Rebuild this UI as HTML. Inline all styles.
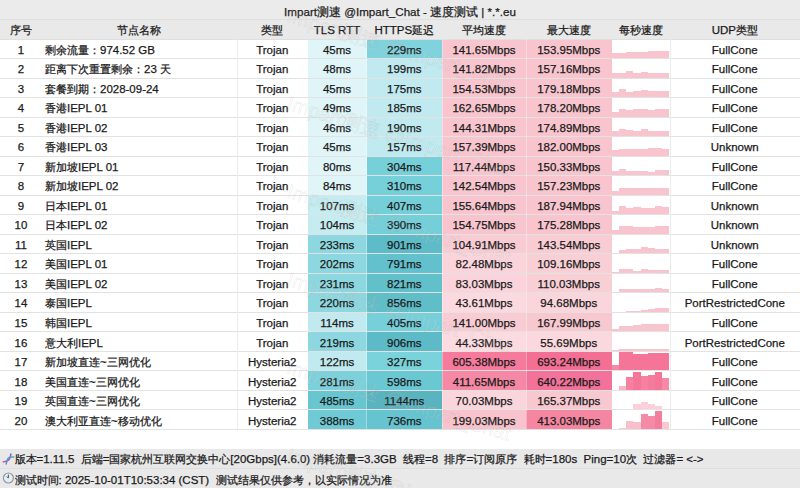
<!DOCTYPE html><html><head><meta charset="utf-8"><style>
*{margin:0;padding:0;box-sizing:border-box}
html,body{width:800px;height:488px;overflow:hidden;background:#fff}
body{position:relative;font-family:"Liberation Sans",sans-serif;font-size:11.49px;color:#1a1a1a}
.a{position:absolute}
.t{position:absolute;text-align:center;white-space:nowrap;-webkit-text-stroke:0.25px #1a1a1a}
.hl{position:absolute;left:0;width:800px;height:1px;background:#e2e2e2}
.vl{position:absolute;width:1px;background:#ececec}
.wm{position:absolute;white-space:nowrap;font-size:20px;line-height:23px;color:rgba(255,255,255,0.12);-webkit-text-stroke:0.6px rgba(130,130,130,0.17);transform-origin:0 0;transform:rotate(17deg)}
</style></head><body>

<div class="a" style="left:0;top:0;width:800px;height:19px;background:#ebebeb"></div>
<div class="t" style="left:0;top:1.8px;width:800px;height:19px;line-height:19px;font-size:11.6px;color:#222;-webkit-text-stroke:0.25px #222">Impart测速 @Impart_Chat - 速度测试 | *.*.eu</div>
<div class="a" style="left:0;top:19px;width:800px;height:20.1px;background:#e9e9e9"></div>
<div class="hl" style="top:19px;background:#dfdfdf"></div>
<div class="t" style="left:1px;top:20.900000000000002px;width:40px;line-height:19.8px">序号</div>
<div class="t" style="left:40px;top:20.900000000000002px;width:197px;line-height:19.8px">节点名称</div>
<div class="t" style="left:237px;top:20.900000000000002px;width:70.5px;line-height:19.8px">类型</div>
<div class="t" style="left:307.5px;top:20.900000000000002px;width:59.0px;line-height:19.8px">TLS RTT</div>
<div class="t" style="left:366.5px;top:20.900000000000002px;width:75.5px;line-height:19.8px">HTTPS延迟</div>
<div class="t" style="left:442px;top:20.900000000000002px;width:84px;line-height:19.8px">平均速度</div>
<div class="t" style="left:526px;top:20.900000000000002px;width:85.5px;line-height:19.8px">最大速度</div>
<div class="t" style="left:611.5px;top:20.900000000000002px;width:58.0px;line-height:19.8px">每秒速度</div>
<div class="t" style="left:669.5px;top:20.900000000000002px;width:130.5px;line-height:19.8px">UDP类型</div>
<div class="a" style="left:307.5px;top:39.10px;width:59.0px;height:19.52px;background:#e0f5f7"></div>
<div class="a" style="left:366.5px;top:39.10px;width:75.5px;height:19.52px;background:#80d3dc"></div>
<div class="a" style="left:442px;top:39.10px;width:84px;height:19.52px;background:#f8c5ce"></div>
<div class="a" style="left:526px;top:39.10px;width:85.5px;height:19.52px;background:#f8c5ce"></div>
<div class="a" style="left:612.00px;top:53.12px;width:7.20px;height:5.00px;background:#f8c4cd"></div>
<div class="a" style="left:619.15px;top:52.52px;width:7.20px;height:5.60px;background:#f8c4cd"></div>
<div class="a" style="left:626.30px;top:52.12px;width:7.20px;height:6.00px;background:#f8c4cd"></div>
<div class="a" style="left:633.45px;top:51.72px;width:7.20px;height:6.40px;background:#f8c4cd"></div>
<div class="a" style="left:640.60px;top:51.52px;width:7.20px;height:6.60px;background:#f8c4cd"></div>
<div class="a" style="left:647.75px;top:51.32px;width:7.20px;height:6.80px;background:#f8c4cd"></div>
<div class="a" style="left:654.90px;top:51.32px;width:7.20px;height:6.80px;background:#f8c4cd"></div>
<div class="a" style="left:662.05px;top:51.32px;width:7.20px;height:6.80px;background:#f8c4cd"></div>
<div class="a" style="left:307.5px;top:58.62px;width:59.0px;height:19.52px;background:#e0f5f7"></div>
<div class="a" style="left:366.5px;top:58.62px;width:75.5px;height:19.52px;background:#c0eaf0"></div>
<div class="a" style="left:442px;top:58.62px;width:84px;height:19.52px;background:#f8c5ce"></div>
<div class="a" style="left:526px;top:58.62px;width:85.5px;height:19.52px;background:#f8c5ce"></div>
<div class="a" style="left:612.00px;top:72.64px;width:7.20px;height:5.00px;background:#f8c4cd"></div>
<div class="a" style="left:619.15px;top:72.64px;width:7.20px;height:5.00px;background:#f8c4cd"></div>
<div class="a" style="left:626.30px;top:71.04px;width:7.20px;height:6.60px;background:#f8c4cd"></div>
<div class="a" style="left:633.45px;top:72.64px;width:7.20px;height:5.00px;background:#f8c4cd"></div>
<div class="a" style="left:640.60px;top:71.64px;width:7.20px;height:6.00px;background:#f8c4cd"></div>
<div class="a" style="left:647.75px;top:72.64px;width:7.20px;height:5.00px;background:#f8c4cd"></div>
<div class="a" style="left:654.90px;top:72.64px;width:7.20px;height:5.00px;background:#f8c4cd"></div>
<div class="a" style="left:662.05px;top:72.64px;width:7.20px;height:5.00px;background:#f8c4cd"></div>
<div class="a" style="left:307.5px;top:78.14px;width:59.0px;height:19.52px;background:#e0f5f7"></div>
<div class="a" style="left:366.5px;top:78.14px;width:75.5px;height:19.52px;background:#c0eaf0"></div>
<div class="a" style="left:442px;top:78.14px;width:84px;height:19.52px;background:#f8c5ce"></div>
<div class="a" style="left:526px;top:78.14px;width:85.5px;height:19.52px;background:#f8c5ce"></div>
<div class="a" style="left:612.00px;top:91.76px;width:7.20px;height:5.40px;background:#f8c4cd"></div>
<div class="a" style="left:619.15px;top:89.16px;width:7.20px;height:8.00px;background:#f8c4cd"></div>
<div class="a" style="left:626.30px;top:91.76px;width:7.20px;height:5.40px;background:#f8c4cd"></div>
<div class="a" style="left:633.45px;top:90.56px;width:7.20px;height:6.60px;background:#f8c4cd"></div>
<div class="a" style="left:640.60px;top:89.76px;width:7.20px;height:7.40px;background:#f8c4cd"></div>
<div class="a" style="left:647.75px;top:90.56px;width:7.20px;height:6.60px;background:#f8c4cd"></div>
<div class="a" style="left:654.90px;top:90.56px;width:7.20px;height:6.60px;background:#f8c4cd"></div>
<div class="a" style="left:662.05px;top:90.56px;width:7.20px;height:6.60px;background:#f8c4cd"></div>
<div class="a" style="left:307.5px;top:97.66px;width:59.0px;height:19.52px;background:#e0f5f7"></div>
<div class="a" style="left:366.5px;top:97.66px;width:75.5px;height:19.52px;background:#c0eaf0"></div>
<div class="a" style="left:442px;top:97.66px;width:84px;height:19.52px;background:#f8c5ce"></div>
<div class="a" style="left:526px;top:97.66px;width:85.5px;height:19.52px;background:#f8c5ce"></div>
<div class="a" style="left:612.00px;top:111.88px;width:7.20px;height:4.80px;background:#f8c4cd"></div>
<div class="a" style="left:619.15px;top:109.28px;width:7.20px;height:7.40px;background:#f8c4cd"></div>
<div class="a" style="left:626.30px;top:110.28px;width:7.20px;height:6.40px;background:#f8c4cd"></div>
<div class="a" style="left:633.45px;top:109.28px;width:7.20px;height:7.40px;background:#f8c4cd"></div>
<div class="a" style="left:640.60px;top:109.28px;width:7.20px;height:7.40px;background:#f8c4cd"></div>
<div class="a" style="left:647.75px;top:109.88px;width:7.20px;height:6.80px;background:#f8c4cd"></div>
<div class="a" style="left:654.90px;top:109.28px;width:7.20px;height:7.40px;background:#f8c4cd"></div>
<div class="a" style="left:662.05px;top:109.28px;width:7.20px;height:7.40px;background:#f8c4cd"></div>
<div class="a" style="left:307.5px;top:117.18px;width:59.0px;height:19.52px;background:#e0f5f7"></div>
<div class="a" style="left:366.5px;top:117.18px;width:75.5px;height:19.52px;background:#c0eaf0"></div>
<div class="a" style="left:442px;top:117.18px;width:84px;height:19.52px;background:#f8c5ce"></div>
<div class="a" style="left:526px;top:117.18px;width:85.5px;height:19.52px;background:#f8c5ce"></div>
<div class="a" style="left:612.00px;top:131.20px;width:7.20px;height:5.00px;background:#f8c4cd"></div>
<div class="a" style="left:619.15px;top:129.20px;width:7.20px;height:7.00px;background:#f8c4cd"></div>
<div class="a" style="left:626.30px;top:130.20px;width:7.20px;height:6.00px;background:#f8c4cd"></div>
<div class="a" style="left:633.45px;top:130.60px;width:7.20px;height:5.60px;background:#f8c4cd"></div>
<div class="a" style="left:640.60px;top:128.60px;width:7.20px;height:7.60px;background:#f8c4cd"></div>
<div class="a" style="left:647.75px;top:130.60px;width:7.20px;height:5.60px;background:#f8c4cd"></div>
<div class="a" style="left:654.90px;top:130.60px;width:7.20px;height:5.60px;background:#f8c4cd"></div>
<div class="a" style="left:662.05px;top:130.60px;width:7.20px;height:5.60px;background:#f8c4cd"></div>
<div class="a" style="left:307.5px;top:136.70px;width:59.0px;height:19.52px;background:#e0f5f7"></div>
<div class="a" style="left:366.5px;top:136.70px;width:75.5px;height:19.52px;background:#c0eaf0"></div>
<div class="a" style="left:442px;top:136.70px;width:84px;height:19.52px;background:#f8c5ce"></div>
<div class="a" style="left:526px;top:136.70px;width:85.5px;height:19.52px;background:#f8c5ce"></div>
<div class="a" style="left:612.00px;top:150.12px;width:7.20px;height:5.60px;background:#f8c4cd"></div>
<div class="a" style="left:619.15px;top:149.12px;width:7.20px;height:6.60px;background:#f8c4cd"></div>
<div class="a" style="left:626.30px;top:149.12px;width:7.20px;height:6.60px;background:#f8c4cd"></div>
<div class="a" style="left:633.45px;top:148.72px;width:7.20px;height:7.00px;background:#f8c4cd"></div>
<div class="a" style="left:640.60px;top:148.52px;width:7.20px;height:7.20px;background:#f8c4cd"></div>
<div class="a" style="left:647.75px;top:147.72px;width:7.20px;height:8.00px;background:#f8c4cd"></div>
<div class="a" style="left:654.90px;top:148.12px;width:7.20px;height:7.60px;background:#f8c4cd"></div>
<div class="a" style="left:662.05px;top:148.52px;width:7.20px;height:7.20px;background:#f8c4cd"></div>
<div class="a" style="left:307.5px;top:156.22px;width:59.0px;height:19.52px;background:#e0f5f7"></div>
<div class="a" style="left:366.5px;top:156.22px;width:75.5px;height:19.52px;background:#76d0da"></div>
<div class="a" style="left:442px;top:156.22px;width:84px;height:19.52px;background:#f8c5ce"></div>
<div class="a" style="left:526px;top:156.22px;width:85.5px;height:19.52px;background:#f8c5ce"></div>
<div class="a" style="left:612.00px;top:171.24px;width:7.20px;height:4.00px;background:#f8c4cd"></div>
<div class="a" style="left:619.15px;top:168.64px;width:7.20px;height:6.60px;background:#f8c4cd"></div>
<div class="a" style="left:626.30px;top:170.64px;width:7.20px;height:4.60px;background:#f8c4cd"></div>
<div class="a" style="left:633.45px;top:170.64px;width:7.20px;height:4.60px;background:#f8c4cd"></div>
<div class="a" style="left:640.60px;top:171.24px;width:7.20px;height:4.00px;background:#f8c4cd"></div>
<div class="a" style="left:647.75px;top:172.24px;width:7.20px;height:3.00px;background:#f8c4cd"></div>
<div class="a" style="left:654.90px;top:169.84px;width:7.20px;height:5.40px;background:#f8c4cd"></div>
<div class="a" style="left:662.05px;top:169.84px;width:7.20px;height:5.40px;background:#f8c4cd"></div>
<div class="a" style="left:307.5px;top:175.74px;width:59.0px;height:19.52px;background:#e0f5f7"></div>
<div class="a" style="left:366.5px;top:175.74px;width:75.5px;height:19.52px;background:#76d0da"></div>
<div class="a" style="left:442px;top:175.74px;width:84px;height:19.52px;background:#f8c5ce"></div>
<div class="a" style="left:526px;top:175.74px;width:85.5px;height:19.52px;background:#f8c5ce"></div>
<div class="a" style="left:612.00px;top:191.36px;width:7.20px;height:3.40px;background:#f8c4cd"></div>
<div class="a" style="left:619.15px;top:187.96px;width:7.20px;height:6.80px;background:#f8c4cd"></div>
<div class="a" style="left:626.30px;top:188.36px;width:7.20px;height:6.40px;background:#f8c4cd"></div>
<div class="a" style="left:633.45px;top:188.36px;width:7.20px;height:6.40px;background:#f8c4cd"></div>
<div class="a" style="left:640.60px;top:187.96px;width:7.20px;height:6.80px;background:#f8c4cd"></div>
<div class="a" style="left:647.75px;top:187.96px;width:7.20px;height:6.80px;background:#f8c4cd"></div>
<div class="a" style="left:654.90px;top:188.36px;width:7.20px;height:6.40px;background:#f8c4cd"></div>
<div class="a" style="left:662.05px;top:188.36px;width:7.20px;height:6.40px;background:#f8c4cd"></div>
<div class="a" style="left:307.5px;top:195.26px;width:59.0px;height:19.52px;background:#c5ecf0"></div>
<div class="a" style="left:366.5px;top:195.26px;width:75.5px;height:19.52px;background:#74cfd9"></div>
<div class="a" style="left:442px;top:195.26px;width:84px;height:19.52px;background:#f8c5ce"></div>
<div class="a" style="left:526px;top:195.26px;width:85.5px;height:19.52px;background:#f8c5ce"></div>
<div class="a" style="left:612.00px;top:211.28px;width:7.20px;height:3.00px;background:#f8c4cd"></div>
<div class="a" style="left:619.15px;top:206.28px;width:7.20px;height:8.00px;background:#f8c4cd"></div>
<div class="a" style="left:626.30px;top:207.88px;width:7.20px;height:6.40px;background:#f8c4cd"></div>
<div class="a" style="left:633.45px;top:207.28px;width:7.20px;height:7.00px;background:#f8c4cd"></div>
<div class="a" style="left:640.60px;top:207.88px;width:7.20px;height:6.40px;background:#f8c4cd"></div>
<div class="a" style="left:647.75px;top:207.88px;width:7.20px;height:6.40px;background:#f8c4cd"></div>
<div class="a" style="left:654.90px;top:205.88px;width:7.20px;height:8.40px;background:#f8c4cd"></div>
<div class="a" style="left:662.05px;top:206.68px;width:7.20px;height:7.60px;background:#f8c4cd"></div>
<div class="a" style="left:307.5px;top:214.78px;width:59.0px;height:19.52px;background:#c5ecf0"></div>
<div class="a" style="left:366.5px;top:214.78px;width:75.5px;height:19.52px;background:#74cfd9"></div>
<div class="a" style="left:442px;top:214.78px;width:84px;height:19.52px;background:#f8c5ce"></div>
<div class="a" style="left:526px;top:214.78px;width:85.5px;height:19.52px;background:#f8c5ce"></div>
<div class="a" style="left:612.00px;top:230.40px;width:7.20px;height:3.40px;background:#f8c4cd"></div>
<div class="a" style="left:619.15px;top:226.00px;width:7.20px;height:7.80px;background:#f8c4cd"></div>
<div class="a" style="left:626.30px;top:226.40px;width:7.20px;height:7.40px;background:#f8c4cd"></div>
<div class="a" style="left:633.45px;top:227.40px;width:7.20px;height:6.40px;background:#f8c4cd"></div>
<div class="a" style="left:640.60px;top:227.40px;width:7.20px;height:6.40px;background:#f8c4cd"></div>
<div class="a" style="left:647.75px;top:226.80px;width:7.20px;height:7.00px;background:#f8c4cd"></div>
<div class="a" style="left:654.90px;top:226.40px;width:7.20px;height:7.40px;background:#f8c4cd"></div>
<div class="a" style="left:662.05px;top:226.40px;width:7.20px;height:7.40px;background:#f8c4cd"></div>
<div class="a" style="left:307.5px;top:234.30px;width:59.0px;height:19.52px;background:#8dd8e0"></div>
<div class="a" style="left:366.5px;top:234.30px;width:75.5px;height:19.52px;background:#5dbcc8"></div>
<div class="a" style="left:442px;top:234.30px;width:84px;height:19.52px;background:#f9ccd4"></div>
<div class="a" style="left:526px;top:234.30px;width:85.5px;height:19.52px;background:#f9ccd4"></div>
<div class="a" style="left:612.00px;top:252.72px;width:7.20px;height:0.60px;background:#f8c4cd"></div>
<div class="a" style="left:619.15px;top:250.32px;width:7.20px;height:3.00px;background:#f8c4cd"></div>
<div class="a" style="left:626.30px;top:248.62px;width:7.20px;height:4.70px;background:#f8c4cd"></div>
<div class="a" style="left:633.45px;top:248.62px;width:7.20px;height:4.70px;background:#f8c4cd"></div>
<div class="a" style="left:640.60px;top:246.92px;width:7.20px;height:6.40px;background:#f8c4cd"></div>
<div class="a" style="left:647.75px;top:247.82px;width:7.20px;height:5.50px;background:#f8c4cd"></div>
<div class="a" style="left:654.90px;top:249.32px;width:7.20px;height:4.00px;background:#f8c4cd"></div>
<div class="a" style="left:662.05px;top:248.62px;width:7.20px;height:4.70px;background:#f8c4cd"></div>
<div class="a" style="left:307.5px;top:253.82px;width:59.0px;height:19.52px;background:#8dd8e0"></div>
<div class="a" style="left:366.5px;top:253.82px;width:75.5px;height:19.52px;background:#62c1cc"></div>
<div class="a" style="left:442px;top:253.82px;width:84px;height:19.52px;background:#fad4da"></div>
<div class="a" style="left:526px;top:253.82px;width:85.5px;height:19.52px;background:#f9cfd6"></div>
<div class="a" style="left:612.00px;top:271.84px;width:7.20px;height:1.00px;background:#f8c4cd"></div>
<div class="a" style="left:619.15px;top:269.44px;width:7.20px;height:3.40px;background:#f8c4cd"></div>
<div class="a" style="left:626.30px;top:268.54px;width:7.20px;height:4.30px;background:#f8c4cd"></div>
<div class="a" style="left:633.45px;top:270.84px;width:7.20px;height:2.00px;background:#f8c4cd"></div>
<div class="a" style="left:640.60px;top:268.54px;width:7.20px;height:4.30px;background:#f8c4cd"></div>
<div class="a" style="left:647.75px;top:270.24px;width:7.20px;height:2.60px;background:#f8c4cd"></div>
<div class="a" style="left:654.90px;top:269.84px;width:7.20px;height:3.00px;background:#f8c4cd"></div>
<div class="a" style="left:662.05px;top:270.24px;width:7.20px;height:2.60px;background:#f8c4cd"></div>
<div class="a" style="left:307.5px;top:273.34px;width:59.0px;height:19.52px;background:#8dd8e0"></div>
<div class="a" style="left:366.5px;top:273.34px;width:75.5px;height:19.52px;background:#62c0cb"></div>
<div class="a" style="left:442px;top:273.34px;width:84px;height:19.52px;background:#fad4da"></div>
<div class="a" style="left:526px;top:273.34px;width:85.5px;height:19.52px;background:#f9cfd6"></div>
<div class="a" style="left:612.00px;top:291.76px;width:7.20px;height:0.60px;background:#f8c4cd"></div>
<div class="a" style="left:619.15px;top:289.36px;width:7.20px;height:3.00px;background:#f8c4cd"></div>
<div class="a" style="left:626.30px;top:288.56px;width:7.20px;height:3.80px;background:#f8c4cd"></div>
<div class="a" style="left:633.45px;top:289.36px;width:7.20px;height:3.00px;background:#f8c4cd"></div>
<div class="a" style="left:640.60px;top:289.36px;width:7.20px;height:3.00px;background:#f8c4cd"></div>
<div class="a" style="left:647.75px;top:288.56px;width:7.20px;height:3.80px;background:#f8c4cd"></div>
<div class="a" style="left:654.90px;top:287.66px;width:7.20px;height:4.70px;background:#f8c4cd"></div>
<div class="a" style="left:662.05px;top:288.56px;width:7.20px;height:3.80px;background:#f8c4cd"></div>
<div class="a" style="left:307.5px;top:292.86px;width:59.0px;height:19.52px;background:#8dd8e0"></div>
<div class="a" style="left:366.5px;top:292.86px;width:75.5px;height:19.52px;background:#60bec9"></div>
<div class="a" style="left:442px;top:292.86px;width:84px;height:19.52px;background:#fbd9df"></div>
<div class="a" style="left:526px;top:292.86px;width:85.5px;height:19.52px;background:#fad5db"></div>
<div class="a" style="left:619.15px;top:311.58px;width:7.20px;height:0.30px;background:#f8c4cd"></div>
<div class="a" style="left:626.30px;top:310.88px;width:7.20px;height:1.00px;background:#f8c4cd"></div>
<div class="a" style="left:633.45px;top:310.88px;width:7.20px;height:1.00px;background:#f8c4cd"></div>
<div class="a" style="left:640.60px;top:310.18px;width:7.20px;height:1.70px;background:#f8c4cd"></div>
<div class="a" style="left:647.75px;top:309.28px;width:7.20px;height:2.60px;background:#f8c4cd"></div>
<div class="a" style="left:654.90px;top:308.48px;width:7.20px;height:3.40px;background:#f8c4cd"></div>
<div class="a" style="left:662.05px;top:308.08px;width:7.20px;height:3.80px;background:#f8c4cd"></div>
<div class="a" style="left:307.5px;top:312.38px;width:59.0px;height:19.52px;background:#c0eaef"></div>
<div class="a" style="left:366.5px;top:312.38px;width:75.5px;height:19.52px;background:#76d0da"></div>
<div class="a" style="left:442px;top:312.38px;width:84px;height:19.52px;background:#f9ccd3"></div>
<div class="a" style="left:526px;top:312.38px;width:85.5px;height:19.52px;background:#f8c8d0"></div>
<div class="a" style="left:612.00px;top:328.80px;width:7.20px;height:2.60px;background:#f8c4cd"></div>
<div class="a" style="left:619.15px;top:326.00px;width:7.20px;height:5.40px;background:#f8c4cd"></div>
<div class="a" style="left:626.30px;top:326.40px;width:7.20px;height:5.00px;background:#f8c4cd"></div>
<div class="a" style="left:633.45px;top:324.80px;width:7.20px;height:6.60px;background:#f8c4cd"></div>
<div class="a" style="left:640.60px;top:324.00px;width:7.20px;height:7.40px;background:#f8c4cd"></div>
<div class="a" style="left:647.75px;top:323.60px;width:7.20px;height:7.80px;background:#f8c4cd"></div>
<div class="a" style="left:654.90px;top:324.00px;width:7.20px;height:7.40px;background:#f8c4cd"></div>
<div class="a" style="left:662.05px;top:324.00px;width:7.20px;height:7.40px;background:#f8c4cd"></div>
<div class="a" style="left:307.5px;top:331.90px;width:59.0px;height:19.52px;background:#8dd8e0"></div>
<div class="a" style="left:366.5px;top:331.90px;width:75.5px;height:19.52px;background:#5dbbc7"></div>
<div class="a" style="left:442px;top:331.90px;width:84px;height:19.52px;background:#fbdbe0"></div>
<div class="a" style="left:526px;top:331.90px;width:85.5px;height:19.52px;background:#fbd8de"></div>
<div class="a" style="left:612.00px;top:350.42px;width:7.20px;height:0.50px;background:#f8c4cd"></div>
<div class="a" style="left:619.15px;top:349.42px;width:7.20px;height:1.50px;background:#f8c4cd"></div>
<div class="a" style="left:626.30px;top:349.42px;width:7.20px;height:1.50px;background:#f8c4cd"></div>
<div class="a" style="left:633.45px;top:349.42px;width:7.20px;height:1.50px;background:#f8c4cd"></div>
<div class="a" style="left:640.60px;top:349.42px;width:7.20px;height:1.50px;background:#f8c4cd"></div>
<div class="a" style="left:647.75px;top:349.42px;width:7.20px;height:1.50px;background:#f8c4cd"></div>
<div class="a" style="left:654.90px;top:349.42px;width:7.20px;height:1.50px;background:#f8c4cd"></div>
<div class="a" style="left:662.05px;top:349.42px;width:7.20px;height:1.50px;background:#f8c4cd"></div>
<div class="a" style="left:307.5px;top:351.42px;width:59.0px;height:19.52px;background:#c0eaef"></div>
<div class="a" style="left:366.5px;top:351.42px;width:75.5px;height:19.52px;background:#7ad2db"></div>
<div class="a" style="left:442px;top:351.42px;width:84px;height:19.52px;background:#f57a9c"></div>
<div class="a" style="left:526px;top:351.42px;width:85.5px;height:19.52px;background:#f36f93"></div>
<div class="a" style="left:612.00px;top:364.64px;width:7.20px;height:5.80px;background:#f68aa5"></div>
<div class="a" style="left:619.15px;top:352.14px;width:7.20px;height:18.30px;background:#f47598"></div>
<div class="a" style="left:626.30px;top:352.14px;width:7.20px;height:18.30px;background:#f47598"></div>
<div class="a" style="left:633.45px;top:353.84px;width:7.20px;height:16.60px;background:#f47598"></div>
<div class="a" style="left:640.60px;top:353.84px;width:7.20px;height:16.60px;background:#f47598"></div>
<div class="a" style="left:647.75px;top:352.54px;width:7.20px;height:17.90px;background:#f47598"></div>
<div class="a" style="left:654.90px;top:352.54px;width:7.20px;height:17.90px;background:#f47598"></div>
<div class="a" style="left:662.05px;top:353.24px;width:7.20px;height:17.20px;background:#f47598"></div>
<div class="a" style="left:307.5px;top:370.94px;width:59.0px;height:19.52px;background:#7cd2dc"></div>
<div class="a" style="left:366.5px;top:370.94px;width:75.5px;height:19.52px;background:#6ac8d3"></div>
<div class="a" style="left:442px;top:370.94px;width:84px;height:19.52px;background:#f588a4"></div>
<div class="a" style="left:526px;top:370.94px;width:85.5px;height:19.52px;background:#f3729a"></div>
<div class="a" style="left:619.15px;top:385.76px;width:7.20px;height:4.20px;background:#f9b5c4"></div>
<div class="a" style="left:626.30px;top:377.36px;width:7.20px;height:12.60px;background:#f5809f"></div>
<div class="a" style="left:633.45px;top:372.16px;width:7.20px;height:17.80px;background:#f47598"></div>
<div class="a" style="left:640.60px;top:375.86px;width:7.20px;height:14.10px;background:#f5809f"></div>
<div class="a" style="left:647.75px;top:375.16px;width:7.20px;height:14.80px;background:#f47b9c"></div>
<div class="a" style="left:654.90px;top:372.16px;width:7.20px;height:17.80px;background:#f47598"></div>
<div class="a" style="left:662.05px;top:378.36px;width:7.20px;height:11.60px;background:#f68aa6"></div>
<div class="a" style="left:307.5px;top:390.46px;width:59.0px;height:19.52px;background:#68c6d1"></div>
<div class="a" style="left:366.5px;top:390.46px;width:75.5px;height:19.52px;background:#5ab4c0"></div>
<div class="a" style="left:442px;top:390.46px;width:84px;height:19.52px;background:#fad5dc"></div>
<div class="a" style="left:526px;top:390.46px;width:85.5px;height:19.52px;background:#f8c8d0"></div>
<div class="a" style="left:626.30px;top:408.88px;width:7.20px;height:0.60px;background:#fbd0d9"></div>
<div class="a" style="left:633.45px;top:403.68px;width:7.20px;height:5.80px;background:#fbd0d9"></div>
<div class="a" style="left:640.60px;top:402.48px;width:7.20px;height:7.00px;background:#fbd0d9"></div>
<div class="a" style="left:647.75px;top:403.68px;width:7.20px;height:5.80px;background:#fbd0d9"></div>
<div class="a" style="left:654.90px;top:406.38px;width:7.20px;height:3.10px;background:#fbd0d9"></div>
<div class="a" style="left:307.5px;top:409.98px;width:59.0px;height:19.52px;background:#6fcad5"></div>
<div class="a" style="left:366.5px;top:409.98px;width:75.5px;height:19.52px;background:#65c4cf"></div>
<div class="a" style="left:442px;top:409.98px;width:84px;height:19.52px;background:#f8c3cc"></div>
<div class="a" style="left:526px;top:409.98px;width:85.5px;height:19.52px;background:#f586a2"></div>
<div class="a" style="left:619.15px;top:427.70px;width:7.20px;height:1.30px;background:#f9c8d0"></div>
<div class="a" style="left:626.30px;top:420.80px;width:7.20px;height:8.20px;background:#f9c0cc"></div>
<div class="a" style="left:633.45px;top:421.80px;width:7.20px;height:7.20px;background:#f9c0cc"></div>
<div class="a" style="left:640.60px;top:414.40px;width:7.20px;height:14.60px;background:#f58aa6"></div>
<div class="a" style="left:647.75px;top:415.70px;width:7.20px;height:13.30px;background:#f58aa6"></div>
<div class="a" style="left:654.90px;top:410.50px;width:7.20px;height:18.50px;background:#f47d9e"></div>
<div class="a" style="left:662.05px;top:421.80px;width:7.20px;height:7.20px;background:#f9c8d1"></div>
<div class="hl" style="top:58.12px"></div>
<div class="hl" style="top:77.64px"></div>
<div class="hl" style="top:97.16px"></div>
<div class="hl" style="top:116.68px"></div>
<div class="hl" style="top:136.20px"></div>
<div class="hl" style="top:155.72px"></div>
<div class="hl" style="top:175.24px"></div>
<div class="hl" style="top:194.76px"></div>
<div class="hl" style="top:214.28px"></div>
<div class="hl" style="top:233.80px"></div>
<div class="hl" style="top:253.32px"></div>
<div class="hl" style="top:272.84px"></div>
<div class="hl" style="top:292.36px"></div>
<div class="hl" style="top:311.88px"></div>
<div class="hl" style="top:331.40px"></div>
<div class="hl" style="top:350.92px"></div>
<div class="hl" style="top:370.44px"></div>
<div class="hl" style="top:389.96px"></div>
<div class="hl" style="top:409.48px"></div>
<div class="hl" style="top:429.00px"></div>
<div class="hl" style="top:38.60px;background:#dfdfdf"></div>
<div class="vl" style="left:237px;top:39.1px;height:390.4px"></div>
<div class="vl" style="left:669.5px;top:39.1px;height:390.4px"></div>
<div class="vl" style="left:366.0px;top:39.1px;height:390.4px;background:rgba(255,255,255,0.35)"></div>
<div class="vl" style="left:441.5px;top:39.1px;height:390.4px;background:rgba(255,255,255,0.35)"></div>
<div class="vl" style="left:525.5px;top:39.1px;height:390.4px;background:rgba(255,255,255,0.35)"></div>
<div class="t" style="left:1px;top:40.70px;width:40px;line-height:19.52px">1</div>
<div class="t" style="left:45px;top:40.70px;line-height:19.52px;text-align:left">剩余流量：974.52 GB</div>
<div class="t" style="left:237px;top:40.70px;width:70.5px;line-height:19.52px">Trojan</div>
<div class="t" style="left:307.5px;top:40.70px;width:59.0px;line-height:19.52px">45ms</div>
<div class="t" style="left:366.5px;top:40.70px;width:75.5px;line-height:19.52px">229ms</div>
<div class="t" style="left:442px;top:40.70px;width:84px;line-height:19.52px">141.65Mbps</div>
<div class="t" style="left:526px;top:40.70px;width:85.5px;line-height:19.52px">153.95Mbps</div>
<div class="t" style="left:669.5px;top:40.70px;width:130.5px;line-height:19.52px">FullCone</div>
<div class="t" style="left:1px;top:60.22px;width:40px;line-height:19.52px">2</div>
<div class="t" style="left:45px;top:60.22px;line-height:19.52px;text-align:left">距离下次重置剩余：23 天</div>
<div class="t" style="left:237px;top:60.22px;width:70.5px;line-height:19.52px">Trojan</div>
<div class="t" style="left:307.5px;top:60.22px;width:59.0px;line-height:19.52px">48ms</div>
<div class="t" style="left:366.5px;top:60.22px;width:75.5px;line-height:19.52px">199ms</div>
<div class="t" style="left:442px;top:60.22px;width:84px;line-height:19.52px">141.82Mbps</div>
<div class="t" style="left:526px;top:60.22px;width:85.5px;line-height:19.52px">157.16Mbps</div>
<div class="t" style="left:669.5px;top:60.22px;width:130.5px;line-height:19.52px">FullCone</div>
<div class="t" style="left:1px;top:79.74px;width:40px;line-height:19.52px">3</div>
<div class="t" style="left:45px;top:79.74px;line-height:19.52px;text-align:left">套餐到期：2028-09-24</div>
<div class="t" style="left:237px;top:79.74px;width:70.5px;line-height:19.52px">Trojan</div>
<div class="t" style="left:307.5px;top:79.74px;width:59.0px;line-height:19.52px">45ms</div>
<div class="t" style="left:366.5px;top:79.74px;width:75.5px;line-height:19.52px">175ms</div>
<div class="t" style="left:442px;top:79.74px;width:84px;line-height:19.52px">154.53Mbps</div>
<div class="t" style="left:526px;top:79.74px;width:85.5px;line-height:19.52px">179.18Mbps</div>
<div class="t" style="left:669.5px;top:79.74px;width:130.5px;line-height:19.52px">FullCone</div>
<div class="t" style="left:1px;top:99.26px;width:40px;line-height:19.52px">4</div>
<div class="t" style="left:45px;top:99.26px;line-height:19.52px;text-align:left">香港IEPL 01</div>
<div class="t" style="left:237px;top:99.26px;width:70.5px;line-height:19.52px">Trojan</div>
<div class="t" style="left:307.5px;top:99.26px;width:59.0px;line-height:19.52px">49ms</div>
<div class="t" style="left:366.5px;top:99.26px;width:75.5px;line-height:19.52px">185ms</div>
<div class="t" style="left:442px;top:99.26px;width:84px;line-height:19.52px">162.65Mbps</div>
<div class="t" style="left:526px;top:99.26px;width:85.5px;line-height:19.52px">178.20Mbps</div>
<div class="t" style="left:669.5px;top:99.26px;width:130.5px;line-height:19.52px">FullCone</div>
<div class="t" style="left:1px;top:118.78px;width:40px;line-height:19.52px">5</div>
<div class="t" style="left:45px;top:118.78px;line-height:19.52px;text-align:left">香港IEPL 02</div>
<div class="t" style="left:237px;top:118.78px;width:70.5px;line-height:19.52px">Trojan</div>
<div class="t" style="left:307.5px;top:118.78px;width:59.0px;line-height:19.52px">46ms</div>
<div class="t" style="left:366.5px;top:118.78px;width:75.5px;line-height:19.52px">190ms</div>
<div class="t" style="left:442px;top:118.78px;width:84px;line-height:19.52px">144.31Mbps</div>
<div class="t" style="left:526px;top:118.78px;width:85.5px;line-height:19.52px">174.89Mbps</div>
<div class="t" style="left:669.5px;top:118.78px;width:130.5px;line-height:19.52px">FullCone</div>
<div class="t" style="left:1px;top:138.30px;width:40px;line-height:19.52px">6</div>
<div class="t" style="left:45px;top:138.30px;line-height:19.52px;text-align:left">香港IEPL 03</div>
<div class="t" style="left:237px;top:138.30px;width:70.5px;line-height:19.52px">Trojan</div>
<div class="t" style="left:307.5px;top:138.30px;width:59.0px;line-height:19.52px">45ms</div>
<div class="t" style="left:366.5px;top:138.30px;width:75.5px;line-height:19.52px">157ms</div>
<div class="t" style="left:442px;top:138.30px;width:84px;line-height:19.52px">157.39Mbps</div>
<div class="t" style="left:526px;top:138.30px;width:85.5px;line-height:19.52px">182.00Mbps</div>
<div class="t" style="left:669.5px;top:138.30px;width:130.5px;line-height:19.52px">Unknown</div>
<div class="t" style="left:1px;top:157.82px;width:40px;line-height:19.52px">7</div>
<div class="t" style="left:45px;top:157.82px;line-height:19.52px;text-align:left">新加坡IEPL 01</div>
<div class="t" style="left:237px;top:157.82px;width:70.5px;line-height:19.52px">Trojan</div>
<div class="t" style="left:307.5px;top:157.82px;width:59.0px;line-height:19.52px">80ms</div>
<div class="t" style="left:366.5px;top:157.82px;width:75.5px;line-height:19.52px">304ms</div>
<div class="t" style="left:442px;top:157.82px;width:84px;line-height:19.52px">117.44Mbps</div>
<div class="t" style="left:526px;top:157.82px;width:85.5px;line-height:19.52px">150.33Mbps</div>
<div class="t" style="left:669.5px;top:157.82px;width:130.5px;line-height:19.52px">FullCone</div>
<div class="t" style="left:1px;top:177.34px;width:40px;line-height:19.52px">8</div>
<div class="t" style="left:45px;top:177.34px;line-height:19.52px;text-align:left">新加坡IEPL 02</div>
<div class="t" style="left:237px;top:177.34px;width:70.5px;line-height:19.52px">Trojan</div>
<div class="t" style="left:307.5px;top:177.34px;width:59.0px;line-height:19.52px">84ms</div>
<div class="t" style="left:366.5px;top:177.34px;width:75.5px;line-height:19.52px">310ms</div>
<div class="t" style="left:442px;top:177.34px;width:84px;line-height:19.52px">142.54Mbps</div>
<div class="t" style="left:526px;top:177.34px;width:85.5px;line-height:19.52px">157.23Mbps</div>
<div class="t" style="left:669.5px;top:177.34px;width:130.5px;line-height:19.52px">FullCone</div>
<div class="t" style="left:1px;top:196.86px;width:40px;line-height:19.52px">9</div>
<div class="t" style="left:45px;top:196.86px;line-height:19.52px;text-align:left">日本IEPL 01</div>
<div class="t" style="left:237px;top:196.86px;width:70.5px;line-height:19.52px">Trojan</div>
<div class="t" style="left:307.5px;top:196.86px;width:59.0px;line-height:19.52px">107ms</div>
<div class="t" style="left:366.5px;top:196.86px;width:75.5px;line-height:19.52px">407ms</div>
<div class="t" style="left:442px;top:196.86px;width:84px;line-height:19.52px">155.64Mbps</div>
<div class="t" style="left:526px;top:196.86px;width:85.5px;line-height:19.52px">187.94Mbps</div>
<div class="t" style="left:669.5px;top:196.86px;width:130.5px;line-height:19.52px">Unknown</div>
<div class="t" style="left:1px;top:216.38px;width:40px;line-height:19.52px">10</div>
<div class="t" style="left:45px;top:216.38px;line-height:19.52px;text-align:left">日本IEPL 02</div>
<div class="t" style="left:237px;top:216.38px;width:70.5px;line-height:19.52px">Trojan</div>
<div class="t" style="left:307.5px;top:216.38px;width:59.0px;line-height:19.52px">104ms</div>
<div class="t" style="left:366.5px;top:216.38px;width:75.5px;line-height:19.52px">390ms</div>
<div class="t" style="left:442px;top:216.38px;width:84px;line-height:19.52px">154.75Mbps</div>
<div class="t" style="left:526px;top:216.38px;width:85.5px;line-height:19.52px">175.28Mbps</div>
<div class="t" style="left:669.5px;top:216.38px;width:130.5px;line-height:19.52px">Unknown</div>
<div class="t" style="left:1px;top:235.90px;width:40px;line-height:19.52px">11</div>
<div class="t" style="left:45px;top:235.90px;line-height:19.52px;text-align:left">英国IEPL</div>
<div class="t" style="left:237px;top:235.90px;width:70.5px;line-height:19.52px">Trojan</div>
<div class="t" style="left:307.5px;top:235.90px;width:59.0px;line-height:19.52px">233ms</div>
<div class="t" style="left:366.5px;top:235.90px;width:75.5px;line-height:19.52px">901ms</div>
<div class="t" style="left:442px;top:235.90px;width:84px;line-height:19.52px">104.91Mbps</div>
<div class="t" style="left:526px;top:235.90px;width:85.5px;line-height:19.52px">143.54Mbps</div>
<div class="t" style="left:669.5px;top:235.90px;width:130.5px;line-height:19.52px">Unknown</div>
<div class="t" style="left:1px;top:255.42px;width:40px;line-height:19.52px">12</div>
<div class="t" style="left:45px;top:255.42px;line-height:19.52px;text-align:left">美国IEPL 01</div>
<div class="t" style="left:237px;top:255.42px;width:70.5px;line-height:19.52px">Trojan</div>
<div class="t" style="left:307.5px;top:255.42px;width:59.0px;line-height:19.52px">202ms</div>
<div class="t" style="left:366.5px;top:255.42px;width:75.5px;line-height:19.52px">791ms</div>
<div class="t" style="left:442px;top:255.42px;width:84px;line-height:19.52px">82.48Mbps</div>
<div class="t" style="left:526px;top:255.42px;width:85.5px;line-height:19.52px">109.16Mbps</div>
<div class="t" style="left:669.5px;top:255.42px;width:130.5px;line-height:19.52px">FullCone</div>
<div class="t" style="left:1px;top:274.94px;width:40px;line-height:19.52px">13</div>
<div class="t" style="left:45px;top:274.94px;line-height:19.52px;text-align:left">美国IEPL 02</div>
<div class="t" style="left:237px;top:274.94px;width:70.5px;line-height:19.52px">Trojan</div>
<div class="t" style="left:307.5px;top:274.94px;width:59.0px;line-height:19.52px">231ms</div>
<div class="t" style="left:366.5px;top:274.94px;width:75.5px;line-height:19.52px">821ms</div>
<div class="t" style="left:442px;top:274.94px;width:84px;line-height:19.52px">83.03Mbps</div>
<div class="t" style="left:526px;top:274.94px;width:85.5px;line-height:19.52px">110.03Mbps</div>
<div class="t" style="left:669.5px;top:274.94px;width:130.5px;line-height:19.52px">FullCone</div>
<div class="t" style="left:1px;top:294.46px;width:40px;line-height:19.52px">14</div>
<div class="t" style="left:45px;top:294.46px;line-height:19.52px;text-align:left">泰国IEPL</div>
<div class="t" style="left:237px;top:294.46px;width:70.5px;line-height:19.52px">Trojan</div>
<div class="t" style="left:307.5px;top:294.46px;width:59.0px;line-height:19.52px">220ms</div>
<div class="t" style="left:366.5px;top:294.46px;width:75.5px;line-height:19.52px">856ms</div>
<div class="t" style="left:442px;top:294.46px;width:84px;line-height:19.52px">43.61Mbps</div>
<div class="t" style="left:526px;top:294.46px;width:85.5px;line-height:19.52px">94.68Mbps</div>
<div class="t" style="left:669.5px;top:294.46px;width:130.5px;line-height:19.52px">PortRestrictedCone</div>
<div class="t" style="left:1px;top:313.98px;width:40px;line-height:19.52px">15</div>
<div class="t" style="left:45px;top:313.98px;line-height:19.52px;text-align:left">韩国IEPL</div>
<div class="t" style="left:237px;top:313.98px;width:70.5px;line-height:19.52px">Trojan</div>
<div class="t" style="left:307.5px;top:313.98px;width:59.0px;line-height:19.52px">114ms</div>
<div class="t" style="left:366.5px;top:313.98px;width:75.5px;line-height:19.52px">405ms</div>
<div class="t" style="left:442px;top:313.98px;width:84px;line-height:19.52px">141.00Mbps</div>
<div class="t" style="left:526px;top:313.98px;width:85.5px;line-height:19.52px">167.99Mbps</div>
<div class="t" style="left:669.5px;top:313.98px;width:130.5px;line-height:19.52px">FullCone</div>
<div class="t" style="left:1px;top:333.50px;width:40px;line-height:19.52px">16</div>
<div class="t" style="left:45px;top:333.50px;line-height:19.52px;text-align:left">意大利IEPL</div>
<div class="t" style="left:237px;top:333.50px;width:70.5px;line-height:19.52px">Trojan</div>
<div class="t" style="left:307.5px;top:333.50px;width:59.0px;line-height:19.52px">219ms</div>
<div class="t" style="left:366.5px;top:333.50px;width:75.5px;line-height:19.52px">906ms</div>
<div class="t" style="left:442px;top:333.50px;width:84px;line-height:19.52px">44.33Mbps</div>
<div class="t" style="left:526px;top:333.50px;width:85.5px;line-height:19.52px">55.69Mbps</div>
<div class="t" style="left:669.5px;top:333.50px;width:130.5px;line-height:19.52px">PortRestrictedCone</div>
<div class="t" style="left:1px;top:353.02px;width:40px;line-height:19.52px">17</div>
<div class="t" style="left:45px;top:353.02px;line-height:19.52px;text-align:left">新加坡直连~三网优化</div>
<div class="t" style="left:237px;top:353.02px;width:70.5px;line-height:19.52px">Hysteria2</div>
<div class="t" style="left:307.5px;top:353.02px;width:59.0px;line-height:19.52px">122ms</div>
<div class="t" style="left:366.5px;top:353.02px;width:75.5px;line-height:19.52px">327ms</div>
<div class="t" style="left:442px;top:353.02px;width:84px;line-height:19.52px">605.38Mbps</div>
<div class="t" style="left:526px;top:353.02px;width:85.5px;line-height:19.52px">693.24Mbps</div>
<div class="t" style="left:669.5px;top:353.02px;width:130.5px;line-height:19.52px">FullCone</div>
<div class="t" style="left:1px;top:372.54px;width:40px;line-height:19.52px">18</div>
<div class="t" style="left:45px;top:372.54px;line-height:19.52px;text-align:left">美国直连~三网优化</div>
<div class="t" style="left:237px;top:372.54px;width:70.5px;line-height:19.52px">Hysteria2</div>
<div class="t" style="left:307.5px;top:372.54px;width:59.0px;line-height:19.52px">281ms</div>
<div class="t" style="left:366.5px;top:372.54px;width:75.5px;line-height:19.52px">598ms</div>
<div class="t" style="left:442px;top:372.54px;width:84px;line-height:19.52px">411.65Mbps</div>
<div class="t" style="left:526px;top:372.54px;width:85.5px;line-height:19.52px">640.22Mbps</div>
<div class="t" style="left:669.5px;top:372.54px;width:130.5px;line-height:19.52px">FullCone</div>
<div class="t" style="left:1px;top:392.06px;width:40px;line-height:19.52px">19</div>
<div class="t" style="left:45px;top:392.06px;line-height:19.52px;text-align:left">英国直连~三网优化</div>
<div class="t" style="left:237px;top:392.06px;width:70.5px;line-height:19.52px">Hysteria2</div>
<div class="t" style="left:307.5px;top:392.06px;width:59.0px;line-height:19.52px">485ms</div>
<div class="t" style="left:366.5px;top:392.06px;width:75.5px;line-height:19.52px">1144ms</div>
<div class="t" style="left:442px;top:392.06px;width:84px;line-height:19.52px">70.03Mbps</div>
<div class="t" style="left:526px;top:392.06px;width:85.5px;line-height:19.52px">165.37Mbps</div>
<div class="t" style="left:669.5px;top:392.06px;width:130.5px;line-height:19.52px">FullCone</div>
<div class="t" style="left:1px;top:411.58px;width:40px;line-height:19.52px">20</div>
<div class="t" style="left:45px;top:411.58px;line-height:19.52px;text-align:left">澳大利亚直连~移动优化</div>
<div class="t" style="left:237px;top:411.58px;width:70.5px;line-height:19.52px">Hysteria2</div>
<div class="t" style="left:307.5px;top:411.58px;width:59.0px;line-height:19.52px">388ms</div>
<div class="t" style="left:366.5px;top:411.58px;width:75.5px;line-height:19.52px">736ms</div>
<div class="t" style="left:442px;top:411.58px;width:84px;line-height:19.52px">199.03Mbps</div>
<div class="t" style="left:526px;top:411.58px;width:85.5px;line-height:19.52px">413.03Mbps</div>
<div class="t" style="left:669.5px;top:411.58px;width:130.5px;line-height:19.52px">FullCone</div>
<div class="a" style="left:0;top:449px;width:800px;height:19px;background:#e8e8e8"></div>
<div class="a" style="left:0;top:468px;width:800px;height:20px;background:#e9e9e9"></div>
<div class="hl" style="top:468px;background:#dedede"></div>
<svg class="a" style="left:0;top:450px" width="16" height="16" viewBox="0 0 16 16">
<defs><linearGradient id="ga" x1="0" y1="1" x2="1" y2="0"><stop offset="0" stop-color="#c45a8c"/><stop offset="1" stop-color="#8c5ad0"/></linearGradient>
<linearGradient id="gb" x1="0" y1="1" x2="1" y2="0"><stop offset="0" stop-color="#5a8ad8"/><stop offset="1" stop-color="#4aa8c8"/></linearGradient></defs>
<path d="M3.3 11.8 C6 11.6, 8.5 10.8, 9.6 8.6 C10.4 7, 10.6 5.5, 10.9 4" stroke="url(#ga)" stroke-width="1.5" fill="none" stroke-linecap="round"/>
<path d="M6.2 14 C6.6 11.5, 7 9.5, 8.4 8 C9.8 6.8, 11.5 6.8, 13.8 6.9" stroke="url(#gb)" stroke-width="1.5" fill="none" stroke-linecap="round"/>
</svg>
<svg class="a" style="left:0;top:469px" width="16" height="18" viewBox="0 0 16 18">
<circle cx="8.4" cy="9" r="5" fill="#e4eef6" stroke="#8d99a4" stroke-width="1.2"/>
<path d="M8.4 5.6 V8.9 L6.6 7.7" stroke="#555" stroke-width="1" fill="none"/>
</svg>
<div class="t" style="left:14.5px;top:450.3px;line-height:19px;text-align:left">版本=1.11.5&nbsp; 后端=国家杭州互联网交换中心[20Gbps](4.6.0) 消耗流量=3.3GB&nbsp; 线程=8&nbsp; 排序=订阅原序&nbsp; 耗时=180s&nbsp; Ping=10次&nbsp; 过滤器= &lt;-&gt;</div>
<div class="t" style="left:14.5px;top:469.6px;line-height:20px;text-align:left">测试时间: 2025-10-01T10:53:34 (CST)&nbsp; 测试结果仅供参考，以实际情况为准</div>
<div class="wm" style="left:290.5px;top:4.4px">Impart测速 @Impart_Chat</div>
<div class="wm" style="left:290.5px;top:92.4px">Impart测速 @Impart_Chat</div>
<div class="wm" style="left:290.5px;top:180.4px">Impart测速 @Impart_Chat</div>
<div class="wm" style="left:290.5px;top:268.4px">Impart测速 @Impart_Chat</div>
<div class="wm" style="left:290.5px;top:356.4px">Impart测速 @Impart_Chat</div>
<div class="wm" style="left:290.5px;top:444.4px">Impart测速 @Impart_Chat</div>
</body></html>
